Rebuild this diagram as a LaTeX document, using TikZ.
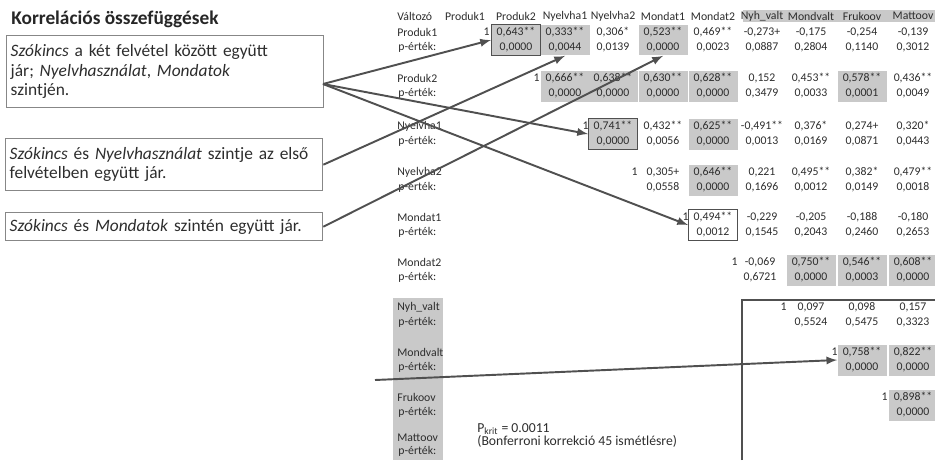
\documentclass[tikz,border=0pt]{standalone}
\usepackage{fontspec}
\setmainfont{Carlito}
\usetikzlibrary{arrows,calc}

\definecolor{cellgray}{RGB}{201,201,201}
\definecolor{linegray}{RGB}{80,80,80}
\definecolor{boxgray}{RGB}{135,135,135}
\definecolor{txt}{RGB}{45,45,45}

\tikzset{
	cell/.style={minimum width=0.98cm, minimum height=0.62cm, inner sep=0pt, align=center, text=txt, font=\fontsize{6.7}{8.5}\selectfont},
	sig/.style={fill=cellgray},
	hl/.style={draw=linegray, line width=0.6pt},
	lab/.style={anchor=west, inner sep=0pt, text=txt, font=\fontsize{6.7}{8}\selectfont},
	head/.style={inner sep=0pt, text=txt, font=\fontsize{6.7}{8}\selectfont},
	one/.style={anchor=east, inner sep=0pt, text=txt, font=\fontsize{6.7}{8}\selectfont},
	note/.style={draw=boxgray, line width=0.8pt, anchor=north west, align=left, text width=6.18cm, inner xsep=0.08cm, text=txt, font=\fontsize{9.9}{11}\selectfont},
	link/.style={draw=linegray, line width=1.1pt, -latex},
}

\begin{document}
\begin{tikzpicture}[x=0.02cm, y=-0.02cm]
	\useasboundingbox (0,0) rectangle (935,460);
	%\draw[help lines] (0,0) grid (935,460);

	% grey bands
	\fill[cellgray] (743,10) rectangle (935,22);
	\fill[cellgray] (393,298) rectangle (443,460);

	\node[anchor=base west, inner sep=0pt, text=black!85, font=\fontsize{11}{13}\selectfont\bfseries] (title) at (11,24) {Korrelációs összefüggések};

	\node[note, minimum height=1.44cm] (b1) at (6,35) {\textit{Szókincs} a két felvétel között együtt\\ jár; \textit{Nyelvhasználat}, \textit{Mondatok}\\ szintjén.};
	\node[note, minimum height=1.04cm] (b2) at (5,138) {\textit{Szókincs} és \textit{Nyelvhasználat} szintje az első\\ felvételben együtt jár.};
	\node[note, minimum height=0.56cm] (b3) at (5,212) {\textit{Szókincs} és \textit{Mondatok} szintén együtt jár.};

	% header
	\node[lab] (hv) at (397,16) {Változó};
	\node[head] (h1) at (465,16) {Produk1};
	\node[head] (h2) at (516,16) {Produk2};
	\node[head] (h3) at (565,16) {Nyelvha1};
	\node[head] (h4) at (613,16) {Nyelvha2};
	\node[head] (h5) at (663,16) {Mondat1};
	\node[head] (h6) at (713,16) {Mondat2};
	\node[head] (h7) at (762,16) {Nyh\_valt};
	\node[head] (h8) at (811,16) {Mondvalt};
	\node[head] (h9) at (862,16) {Frukoov};
	\node[head] (h10) at (913,16) {Mattoov};

	% row labels
	\node[lab] (l1) at (397,32) {Produk1};   \node[lab] (p1) at (398,47) {p-érték:};
	\node[lab] (l2) at (397,78) {Produk2};   \node[lab] (p2) at (398,93) {p-érték:};
	\node[lab] (l3) at (397,126) {Nyelvha1}; \node[lab] (p3) at (398,141) {p-érték:};
	\node[lab] (l4) at (397,172) {Nyelvha2}; \node[lab] (p4) at (398,187) {p-érték:};
	\node[lab] (l5) at (397,217) {Mondat1};  \node[lab] (p5) at (398,232) {p-érték:};
	\node[lab] (l6) at (397,262) {Mondat2};  \node[lab] (p6) at (398,277) {p-érték:};
	\node[lab] (l7) at (397,307) {Nyh\_valt}; \node[lab] (p7) at (398,322) {p-érték:};
	\node[lab] (l8) at (397,352) {Mondvalt}; \node[lab] (p8) at (398,367) {p-érték:};
	\node[lab] (l9) at (397,397) {Frukoov};  \node[lab] (p9) at (398,412) {p-érték:};
	\node[lab] (l10) at (397,438) {Mattoov}; \node[lab] (p10) at (398,451) {p-érték:};

	% row Produk1
	\node[one] (d1) at (490,32) {1};
	\node[cell,sig,hl] (c12) at (516,40) {0,643**\\0,0000};
	\node[cell,sig] (c13) at (565,40) {0,333**\\0,0044};
	\node[cell] (c14) at (613,40) {0,306*\\0,0139};
	\node[cell,sig] (c15) at (663,40) {0,523**\\0,0000};
	\node[cell] (c16) at (713,40) {0,469**\\0,0023};
	\node[cell] (c17) at (762,40) {-0,273+\\0,0887};
	\node[cell] (c18) at (811,40) {-0,175\\0,2804};
	\node[cell] (c19) at (862,40) {-0,254\\0,1140};
	\node[cell] (c1x) at (913,40) {-0,139\\0,3012};

	% row Produk2
	\node[one] (d2) at (540,78) {1};
	\node[cell,sig] (c23) at (565,86) {0,666**\\0,0000};
	\node[cell,sig] (c24) at (613,86) {0,638**\\0,0000};
	\node[cell,sig] (c25) at (663,86) {0,630**\\0,0000};
	\node[cell,sig] (c26) at (713,86) {0,628**\\0,0000};
	\node[cell] (c27) at (762,86) {0,152\\0,3479};
	\node[cell] (c28) at (811,86) {0,453**\\0,0033};
	\node[cell,sig] (c29) at (862,86) {0,578**\\0,0001};
	\node[cell] (c2x) at (913,86) {0,436**\\0,0049};

	% row Nyelvha1
	\node[one] (d3) at (589,126) {1};
	\node[cell,sig,hl] (c34) at (613,134) {0,741**\\0,0000};
	\node[cell] (c35) at (663,134) {0,432**\\0,0056};
	\node[cell,sig] (c36) at (713,134) {0,625**\\0,0000};
	\node[cell] (c37) at (762,134) {-0,491**\\0,0013};
	\node[cell] (c38) at (811,134) {0,376*\\0,0169};
	\node[cell] (c39) at (862,134) {0,274+\\0,0871};
	\node[cell] (c3x) at (913,134) {0,320*\\0,0443};

	% row Nyelvha2
	\node[one] (d4) at (638,172) {1};
	\node[cell] (c45) at (663,180) {0,305+\\0,0558};
	\node[cell,sig] (c46) at (713,180) {0,646**\\0,0000};
	\node[cell] (c47) at (762,180) {0,221\\0,1696};
	\node[cell] (c48) at (811,180) {0,495**\\0,0012};
	\node[cell] (c49) at (862,180) {0,382*\\0,0149};
	\node[cell] (c4x) at (913,180) {0,479**\\0,0018};

	% row Mondat1
	\node[one] (d5) at (689,217) {1};
	\node[cell,hl] (c56) at (713,225) {0,494**\\0,0012};
	\node[cell] (c57) at (762,225) {-0,229\\0,1545};
	\node[cell] (c58) at (811,225) {-0,205\\0,2043};
	\node[cell] (c59) at (862,225) {-0,188\\0,2460};
	\node[cell] (c5x) at (913,225) {-0,180\\0,2653};

	% row Mondat2
	\node[one] (d6) at (738,262) {1};
	\node[cell] (c67) at (760,270) {-0,069\\0,6721};
	\node[cell,sig] (c68) at (811,270) {0,750**\\0,0000};
	\node[cell,sig] (c69) at (862,270) {0,546**\\0,0003};
	\node[cell,sig] (c6x) at (913,270) {0,608**\\0,0000};

	% row Nyh_valt
	\node[one] (d7) at (787,307) {1};
	\node[cell] (c78) at (811,315) {0,097\\0,5524};
	\node[cell] (c79) at (862,315) {0,098\\0,5475};
	\node[cell] (c7x) at (913,315) {0,157\\0,3323};

	% row Mondvalt
	\node[one] (d8) at (838,352) {1};
	\node[cell,sig] (c89) at (862,360) {0,758**\\0,0000};
	\node[cell,sig] (c8x) at (913,360) {0,822**\\0,0000};

	% row Frukoov
	\node[one] (d9) at (888,397) {1};
	\node[cell,sig] (c9x) at (913,405) {0,898**\\0,0000};

	\node[anchor=north west, inner sep=0pt, align=left, text=txt, font=\fontsize{7.8}{7.8}\selectfont] (krit) at (477,423) {P\textsubscript{krit} = 0.0011\\(Bonferroni korrekció 45 ismétlésre)};

	% frame of the lower block
	\draw[linegray, line width=0.8pt] (742,460) -- (742,300) -- (935,300);

	% connectors
	\coordinate (b1o) at (323,84);
	\coordinate (mvo) at (375,380);
	\draw[link] (b1o) -- (c12.west);
	\draw[link] (b1o) -- (c34.west);
	\draw[link] (b1o) -- (c56.west);
	\draw[link] (b2.east) -- (c13.south);
	\draw[link] (b3.east) -- (c15.south);
	\draw[link] (mvo) -- (c89.west);
\end{tikzpicture}
\end{document}
